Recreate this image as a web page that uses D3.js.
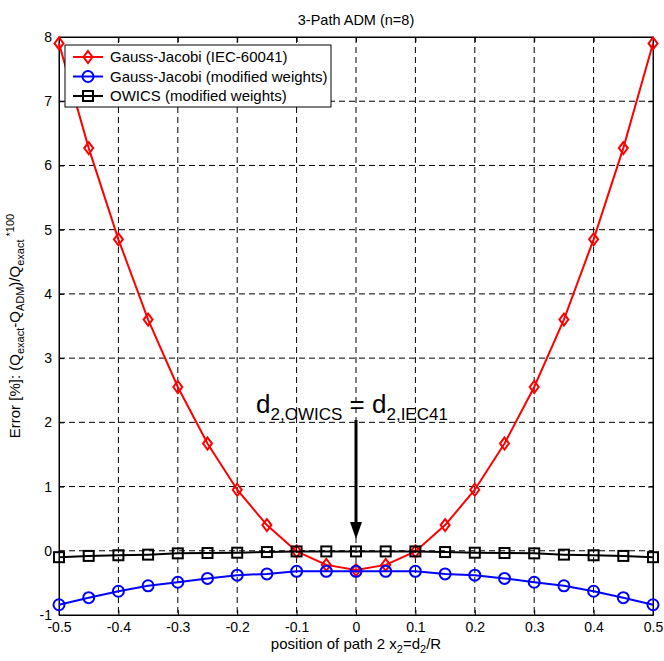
<!DOCTYPE html>
<html>
<head>
<meta charset="utf-8">
<script src="https://cdn.jsdelivr.net/npm/d3@7"></script>
<style>
  body { margin: 0; background: #fff; }
  text { font-family: Arial, "Liberation Sans", sans-serif; }
</style>
</head>
<body>
<svg id="chart" width="664" height="661"></svg>
<script>
// data
var xPos = [-0.5, -0.45, -0.4, -0.35, -0.3, -0.25, -0.2, -0.15, -0.1, -0.05, 0,
            0.05, 0.1, 0.15, 0.2, 0.25, 0.3, 0.35, 0.4, 0.45, 0.5];
var gaussIEC = [7.9, 6.27, 4.85, 3.6, 2.55, 1.67, 0.95, 0.4, -0.01, -0.22, -0.3,
                -0.22, -0.01, 0.4, 0.95, 1.67, 2.55, 3.6, 4.85, 6.27, 7.9];
var gaussMod = [-0.84, -0.73, -0.63, -0.545, -0.49, -0.43, -0.38, -0.36, -0.32, -0.32, -0.32,
                -0.32, -0.32, -0.36, -0.38, -0.43, -0.49, -0.545, -0.63, -0.73, -0.84];
var owicsMod = [-0.1, -0.08, -0.07, -0.06, -0.04, -0.035, -0.03, -0.02, -0.01, -0.01, -0.01,
                -0.01, -0.01, -0.02, -0.03, -0.035, -0.04, -0.06, -0.07, -0.08, -0.1];
var xTicks = [-0.5, -0.4, -0.3, -0.2, -0.1, 0, 0.1, 0.2, 0.3, 0.4, 0.5];
var yTicks = [-1, 0, 1, 2, 3, 4, 5, 6, 7, 8];
var seriesNames = ["Gauss-Jacobi (IEC-60041)", "Gauss-Jacobi (modified weights)", "OWICS (modified weights)"];

var svg = d3.select("#chart"),
    pl = 59, pr = 653, pt = 37, pb = 615;

var x = d3.scaleLinear().domain([-0.5, 0.5]).range([pl, pr]);
var y = d3.scaleLinear().domain([-1, 8]).range([pb, pt]);

var series = [
  { name: seriesNames[0], values: gaussIEC, color: "#ff0000", marker: "diamond" },
  { name: seriesNames[1], values: gaussMod, color: "#0000ff", marker: "circle" },
  { name: seriesNames[2], values: owicsMod, color: "#000000", marker: "square" }
];

// grid
var grid = svg.append("g").attr("stroke", "#000").attr("stroke-width", 1).attr("stroke-dasharray", "6,4");
grid.selectAll(".gx").data(xTicks.slice(1, -1)).enter().append("line")
  .attr("x1", function(d) { return x(d); }).attr("x2", function(d) { return x(d); })
  .attr("y1", pt).attr("y2", pb);
grid.selectAll(".gy").data(yTicks.slice(1, -1)).enter().append("line")
  .attr("y1", function(d) { return y(d); }).attr("y2", function(d) { return y(d); })
  .attr("x1", pl).attr("x2", pr);

// axes (ticks inward, box)
var axB = svg.append("g").attr("transform", "translate(0," + pb + ")")
  .call(d3.axisBottom(x).tickValues(xTicks).tickSizeInner(-5).tickSizeOuter(0).tickPadding(12)
    .tickFormat(function(d) { return d === 0 ? "0" : d.toFixed(1); }));
var axT = svg.append("g").attr("transform", "translate(0," + pt + ")")
  .call(d3.axisTop(x).tickValues(xTicks).tickSizeInner(-5).tickSizeOuter(0).tickFormat(""));
var axL = svg.append("g").attr("transform", "translate(" + pl + ",0)")
  .call(d3.axisLeft(y).tickValues(yTicks).tickSizeInner(-5).tickSizeOuter(0).tickPadding(7)
    .tickFormat(function(d) { return String(d); }));
var axR = svg.append("g").attr("transform", "translate(" + pr + ",0)")
  .call(d3.axisRight(y).tickValues(yTicks).tickSizeInner(-5).tickSizeOuter(0).tickFormat(""));
[axB, axT, axL, axR].forEach(function(a) {
  a.selectAll("path, line").attr("stroke", "#000").attr("stroke-width", 1);
  a.selectAll("text").attr("fill", "#000").style("font-size", "14px").style("font-family", "Arial, 'Liberation Sans', sans-serif");
});
axB.selectAll("text").attr("y", 17).attr("dy", 0);
svg.append("rect").attr("x", pl).attr("y", pt).attr("width", pr - pl).attr("height", pb - pt)
  .attr("fill", "none").attr("stroke", "#000").attr("stroke-width", 1);

// marker drawing helper
function drawMarker(sel, type, color) {
  if (type === "diamond") {
    sel.append("path").attr("d", "M0,-6L4.5,0L0,6L-4.5,0Z");
  } else if (type === "circle") {
    sel.append("circle").attr("r", 5.5);
  } else {
    sel.append("rect").attr("x", -5).attr("y", -5).attr("width", 10).attr("height", 10);
  }
  sel.selectAll("path, circle, rect").attr("fill", "none").attr("stroke", color).attr("stroke-width", 2);
}

var line = d3.line().x(function(d, i) { return x(xPos[i]); }).y(function(d) { return y(d); });

series.forEach(function(s) {
  var g = svg.append("g");
  g.append("path").attr("d", line(s.values)).attr("fill", "none").attr("stroke", s.color).attr("stroke-width", 2);
  g.selectAll(".m").data(s.values).enter().append("g")
    .attr("transform", function(d, i) { return "translate(" + x(xPos[i]) + "," + y(d) + ")"; })
    .each(function() { drawMarker(d3.select(this), s.marker, s.color); });
});

// legend
var lg = svg.append("g");
lg.append("rect").attr("x", 65).attr("y", 45).attr("width", 266).attr("height", 62)
  .attr("fill", "#fff").attr("stroke", "#000").attr("stroke-width", 1);
series.forEach(function(s, i) {
  var yy = 57 + i * 19.5;
  lg.append("line").attr("x1", 73).attr("x2", 103).attr("y1", yy).attr("y2", yy)
    .attr("stroke", s.color).attr("stroke-width", 2);
  var m = lg.append("g").attr("transform", "translate(88," + yy + ")");
  drawMarker(m, s.marker, s.color);
  lg.append("text").attr("x", 110).attr("y", yy).attr("dy", "0.35em")
    .style("font-size", "15px").text(s.name);
});

// title
svg.append("text").attr("x", (pl + pr) / 2).attr("y", 25).attr("text-anchor", "middle")
  .style("font-size", "14.5px").text("3-Path ADM (n=8)");

// x label
var xl = svg.append("text").attr("x", (pl + pr) / 2).attr("y", 649).attr("text-anchor", "middle")
  .style("font-size", "15px");
xl.append("tspan").text("position of path 2 x");
xl.append("tspan").attr("dy", 4).style("font-size", "11px").text("2");
xl.append("tspan").attr("dy", -4).text("=d");
xl.append("tspan").attr("dy", 4).style("font-size", "11px").text("2");
xl.append("tspan").attr("dy", -4).text("/R");

// y label
var yl = svg.append("text").attr("transform", "translate(20," + ((pt + pb) / 2) + ") rotate(-90)")
  .attr("text-anchor", "middle").style("font-size", "15px");
yl.append("tspan").text("Error [%]: (Q");
yl.append("tspan").attr("dy", 4).style("font-size", "11px").text("exact");
yl.append("tspan").attr("dy", -4).text("-Q");
yl.append("tspan").attr("dy", 4).style("font-size", "11px").text("ADM");
yl.append("tspan").attr("dy", -4).text(")/Q");
yl.append("tspan").attr("dy", 4).style("font-size", "11px").text("exact");
yl.append("tspan").attr("dy", -10).style("font-size", "11px").text(" *100");

// annotation
var an = svg.append("text").attr("x", x(0) - 4).attr("y", 413).attr("text-anchor", "middle")
  .style("font-size", "26px");
an.append("tspan").text("d");
an.append("tspan").attr("dy", 7).style("font-size", "17px").text("2,OWICS");
an.append("tspan").attr("dy", -7).text(" = d");
an.append("tspan").attr("dy", 7).style("font-size", "17px").text("2,IEC41");

svg.append("line").attr("x1", x(0)).attr("x2", x(0)).attr("y1", 420).attr("y2", 526)
  .attr("stroke", "#000").attr("stroke-width", 3);
svg.append("path").attr("d", "M" + (x(0) - 6) + ",522L" + (x(0) + 6) + ",522L" + x(0) + ",539Z")
  .attr("fill", "#000");
</script>
</body>
</html>
